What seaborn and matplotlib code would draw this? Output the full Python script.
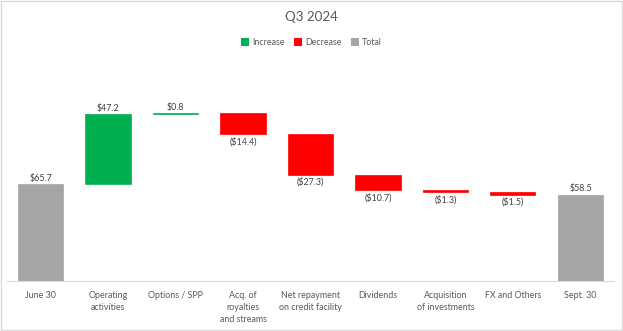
import numpy as np
import pandas as pd
import matplotlib
matplotlib.use("Agg")
import matplotlib.pyplot as plt
from matplotlib.patches import Patch, Rectangle
import seaborn as sns

categories = ["June 30", "Operating\nactivities", "Options / SPP", "Acq. of\nroyalties\nand streams",
              "Net repayment\non credit facility", "Dividends", "Acquisition\nof investments",
              "FX and Others", "Sept. 30"]
changes = [65.7, 47.2, 0.8, -14.4, -27.3, -10.7, -1.3, -1.5, 58.5]
kinds = ["Total", "Increase", "Increase", "Decrease", "Decrease", "Decrease", "Decrease", "Decrease", "Total"]
labels = ["$65.7", "$47.2", "$0.8", "($14.4)", "($27.3)", "($10.7)", "($1.3)", "($1.5)", "$58.5"]
colors = {"Increase": "#00B050", "Decrease": "#FF0000", "Total": "#A5A5A5"}

# compute bottoms/heights
bottoms, heights = [], []
running = 0.0
for c, k in zip(changes, kinds):
    if k == "Total":
        bottoms.append(0.0); heights.append(c); running = c
    elif c >= 0:
        bottoms.append(running); heights.append(c); running += c
    else:
        bottoms.append(running + c); heights.append(-c); running += c

df = pd.DataFrame({"cat": categories, "height": heights, "bottom": bottoms, "kind": kinds})

sns.set_theme(style="white")
plt.rcParams["font.family"] = ["Lato", "DejaVu Sans"]

fig = plt.figure(figsize=(6.23, 3.31), dpi=100)
ax = fig.add_axes([0.01083, 0.151, 0.9751, 0.625])

sns.barplot(data=df, x="cat", y="height", bottom=df["bottom"].values, ax=ax,
            color="#A5A5A5", width=0.667, errorbar=None, saturation=1, linewidth=0)
for p, k in zip(ax.patches, kinds):
    p.set_facecolor(colors[k])
    p.set_edgecolor(colors[k])
    p.set_linewidth(0.5)

ax.set_ylim(0, 140)
ax.set_xlim(-0.5, len(categories) - 0.5)
for s in ["top", "right", "left"]:
    ax.spines[s].set_visible(False)
ax.spines["bottom"].set_color("#D9D9D9")
ax.spines["bottom"].set_linewidth(0.8)
ax.set_yticks([])
ax.set_xlabel(""); ax.set_ylabel("")
ax.tick_params(axis="x", length=0, pad=7, labelsize=6.4, labelcolor="#595959")
for t in ax.get_xticklabels():
    t.set_linespacing(1.48)
    t.set_verticalalignment("top")

for i, (b, h, c, k, lab) in enumerate(zip(bottoms, heights, changes, kinds, labels)):
    if k == "Decrease":
        ax.annotate(lab, (i, b), xytext=(0, -2), textcoords="offset points",
                    ha="center", va="top", fontsize=6.4, color="#404040")
    else:
        ax.annotate(lab, (i, b + h), xytext=(0, 1), textcoords="offset points",
                    ha="center", va="bottom", fontsize=6.4, color="#404040")

fig.text(0.5, 0.948, "Q3 2024", ha="center", va="center", fontsize=9.6, color="#595959")
handles = [Patch(facecolor=colors[k], edgecolor="none", label=k) for k in ["Increase", "Decrease", "Total"]]
fig.legend(handles=handles, loc="center", bbox_to_anchor=(0.5, 0.871), ncol=3, frameon=False,
           fontsize=6.4, labelcolor="#595959", handlelength=0.9, handleheight=0.9,
           handletextpad=0.4, columnspacing=1.0)

fig.patches.append(Rectangle((0.001, 0.002), 0.997, 0.995, transform=fig.transFigure,
                             fill=False, edgecolor="#D9D9D9", linewidth=1.0))

fig.savefig("out.png", dpi=100)
